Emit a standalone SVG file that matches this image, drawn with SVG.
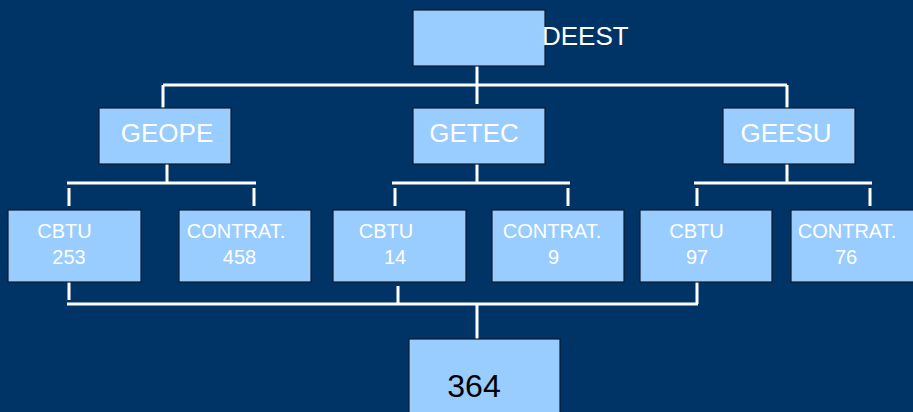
<svg xmlns="http://www.w3.org/2000/svg" width="913" height="412" viewBox="0 0 913 412">
<style>
.box{fill:#99ccff;stroke:#0d1a2b;stroke-width:1.2}
.ln{stroke:#ffffff;stroke-width:3;fill:none}
.t{font-family:"Liberation Sans",Arial,sans-serif;fill:#ffffff}
.big{font-size:26px}
.sm{font-size:20px}
</style>
<rect x="0" y="0" width="913" height="412" fill="#003366"/>
<g id="connectors">
<path class="ln" d="M477,66 V104 M163,85 H787 M163,85 V108 M787,85 V108"/>
<path class="ln" d="M167,164 V183 M67,183 H256 M69,188 V206 M254,188 V206"/>
<path class="ln" d="M477,164 V183 M392,183 H570 M395,188 V206 M568,188 V206"/>
<path class="ln" d="M787,164 V183 M694,183 H872 M697,188 V206 M870,188 V206"/>
<path class="ln" d="M69,282 V300 M398,286 V303 M697,282 V304 M67,304 H698 M477,304 V342"/>
</g>
<g id="deest">
<rect class="box" x="413" y="10" width="132" height="56"/>
<text class="t big" x="542" y="45">DEEST</text>
</g>
<g id="geope">
<rect class="box" x="99" y="108" width="132" height="56"/>
<text class="t big" x="167" y="142" text-anchor="middle">GEOPE</text>
</g>
<g id="getec">
<rect class="box" x="413" y="108" width="132" height="56"/>
<text class="t big" x="474" y="142" text-anchor="middle">GETEC</text>
</g>
<g id="geesu">
<rect class="box" x="723" y="108" width="132" height="56"/>
<text class="t big" x="786" y="142" text-anchor="middle">GEESU</text>
</g>
<g id="cbtu1">
<rect class="box" x="8" y="210" width="133" height="72"/>
<text class="t sm" x="64.5" y="238" text-anchor="middle">CBTU</text>
<text class="t sm" x="69" y="264" text-anchor="middle">253</text>
</g>
<g id="contrat1">
<rect class="box" x="179" y="210" width="132" height="72"/>
<text class="t sm" x="236" y="238" text-anchor="middle">CONTRAT.</text>
<text class="t sm" x="239.5" y="264" text-anchor="middle">458</text>
</g>
<g id="cbtu2">
<rect class="box" x="333" y="210" width="133" height="72"/>
<text class="t sm" x="386" y="238" text-anchor="middle">CBTU</text>
<text class="t sm" x="395" y="264" text-anchor="middle">14</text>
</g>
<g id="contrat2">
<rect class="box" x="492" y="210" width="132" height="72"/>
<text class="t sm" x="552" y="238" text-anchor="middle">CONTRAT.</text>
<text class="t sm" x="553.5" y="264" text-anchor="middle">9</text>
</g>
<g id="cbtu3">
<rect class="box" x="640" y="210" width="132" height="72"/>
<text class="t sm" x="696.5" y="238" text-anchor="middle">CBTU</text>
<text class="t sm" x="697" y="264" text-anchor="middle">97</text>
</g>
<g id="contrat3">
<rect class="box" x="791" y="210" width="132" height="72"/>
<text class="t sm" x="847" y="238" text-anchor="middle">CONTRAT.</text>
<text class="t sm" x="846" y="264" text-anchor="middle">76</text>
</g>
<g id="total">
<rect class="box" x="409" y="339" width="151" height="80"/>
<text class="t" x="474" y="397" text-anchor="middle" style="fill:#000000;font-size:32px">364</text>
</g>
</svg>
